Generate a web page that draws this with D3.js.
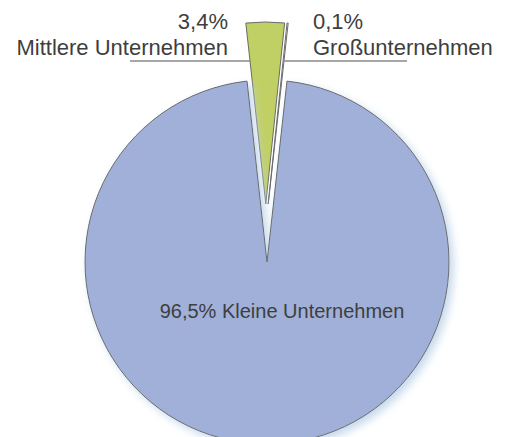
<!DOCTYPE html>
<html>
<head>
<meta charset="utf-8">
<script src="https://cdn.jsdelivr.net/npm/d3@7"></script>
<style>
    html, body { margin: 0; padding: 0; background: #fff; }
    svg { display: block; }
</style>
</head>
<body>
<svg id="chart"></svg>
<script>
    const names = ['Mittlere Unternehmen', 'Großunternehmen', 'Kleine Unternehmen'];
    const shares = [3.4, 0.1, 96.5];
    const shareLabels = ['3,4%', '0,1%', '96,5%'];
    const exploded = [true, true, false];
    const sliceColors = ['#c1d064', '#ffffff', '#a0b0d8'];

    const width = 507;
    const height = 437;
    const cx = 267;
    const cy = 262;
    const radius = 182;
    const explodeDist = 58;
    const sideGap = 1.2;

    const svg = d3.select('#chart')
        .attr('width', width)
        .attr('height', height)
        .style('font-family', '"Liberation Sans", Arial, sans-serif');

    const defs = svg.append('defs');
    defs.append('filter')
        .attr('id', 'shadow')
        .attr('x', '-20%').attr('y', '-20%')
        .attr('width', '140%').attr('height', '140%')
        .append('feDropShadow')
        .attr('dx', 4)
        .attr('dy', 4)
        .attr('stdDeviation', 4)
        .attr('flood-color', '#bcd2e8')
        .attr('flood-opacity', 0.85);

    // small slices sit around 12 o'clock, the big one fills the rest
    const smallTotal = d3.sum(shares.filter((v, i) => exploded[i]));
    const offset = -Math.PI * smallTotal / 100;
    const pie = d3.pie()
        .sort(null)
        .value(d => d)
        .startAngle(offset)
        .endAngle(offset + 2 * Math.PI);
    const arcs = pie(shares);
    const arc = d3.arc().innerRadius(0).outerRadius(radius);

    // exploded slices move out together along the group's middle (12 o'clock),
    // with a small sideways gap between them
    const groupMid = 0;
    const shift = (d, i) => {
        if (!exploded[i]) return [0, 0];
        const mid = (d.startAngle + d.endAngle) / 2;
        const side = mid < groupMid ? -1 : 1;
        return [
            Math.sin(groupMid) * explodeDist + Math.cos(groupMid) * sideGap * side,
            -Math.cos(groupMid) * explodeDist + Math.sin(groupMid) * sideGap * side
        ];
    };

    const g = svg.append('g').attr('transform', `translate(${cx},${cy})`);

    g.selectAll('path')
        .data(arcs)
        .join('path')
        .attr('transform', (d, i) => `translate(${shift(d, i)})`)
        .attr('d', arc)
        .attr('fill', (d, i) => sliceColors[i])
        .attr('stroke', '#6a6a6a')
        .attr('stroke-width', 1)
        .attr('stroke-linejoin', 'round')
        .attr('filter', (d, i) => exploded[i] ? null : 'url(#shadow)');

    // x of a slice edge (given angle) at a page y, after explosion
    const edgeX = (d, i, angle, y) => {
        const [dx, dy] = shift(d, i);
        const ay = cy + dy;
        return cx + dx + (ay - y) * Math.tan(angle);
    };

    const lineY = 61;
    const textColor = '#3e3e3e';

    // left label: Mittlere
    const m = arcs[0];
    svg.append('line')
        .attr('x1', 130).attr('x2', edgeX(m, 0, m.startAngle, lineY))
        .attr('y1', lineY).attr('y2', lineY)
        .attr('stroke', '#8a8a8a').attr('stroke-width', 1.5);
    const lt = svg.append('text')
        .attr('text-anchor', 'end')
        .attr('fill', textColor)
        .style('font-size', '22px');
    lt.append('tspan').attr('x', 228).attr('y', 29).text(shareLabels[0]);
    lt.append('tspan').attr('x', 228).attr('y', 55).text(names[0]);

    // right label: Groß
    const gr = arcs[1];
    svg.append('line')
        .attr('x1', edgeX(gr, 1, gr.endAngle, lineY)).attr('x2', 407)
        .attr('y1', lineY).attr('y2', lineY)
        .attr('stroke', '#8a8a8a').attr('stroke-width', 1.5);
    const rt = svg.append('text')
        .attr('text-anchor', 'start')
        .attr('fill', textColor)
        .style('font-size', '22px');
    rt.append('tspan').attr('x', 313).attr('y', 29).text(shareLabels[1]);
    rt.append('tspan').attr('x', 313).attr('y', 55).text(names[1]);

    // big slice label inside
    svg.append('text')
        .attr('x', 282)
        .attr('y', 318)
        .attr('text-anchor', 'middle')
        .attr('fill', textColor)
        .style('font-size', '20px')
        .text(`${shareLabels[2]} ${names[2]}`);
</script>
</body>
</html>
